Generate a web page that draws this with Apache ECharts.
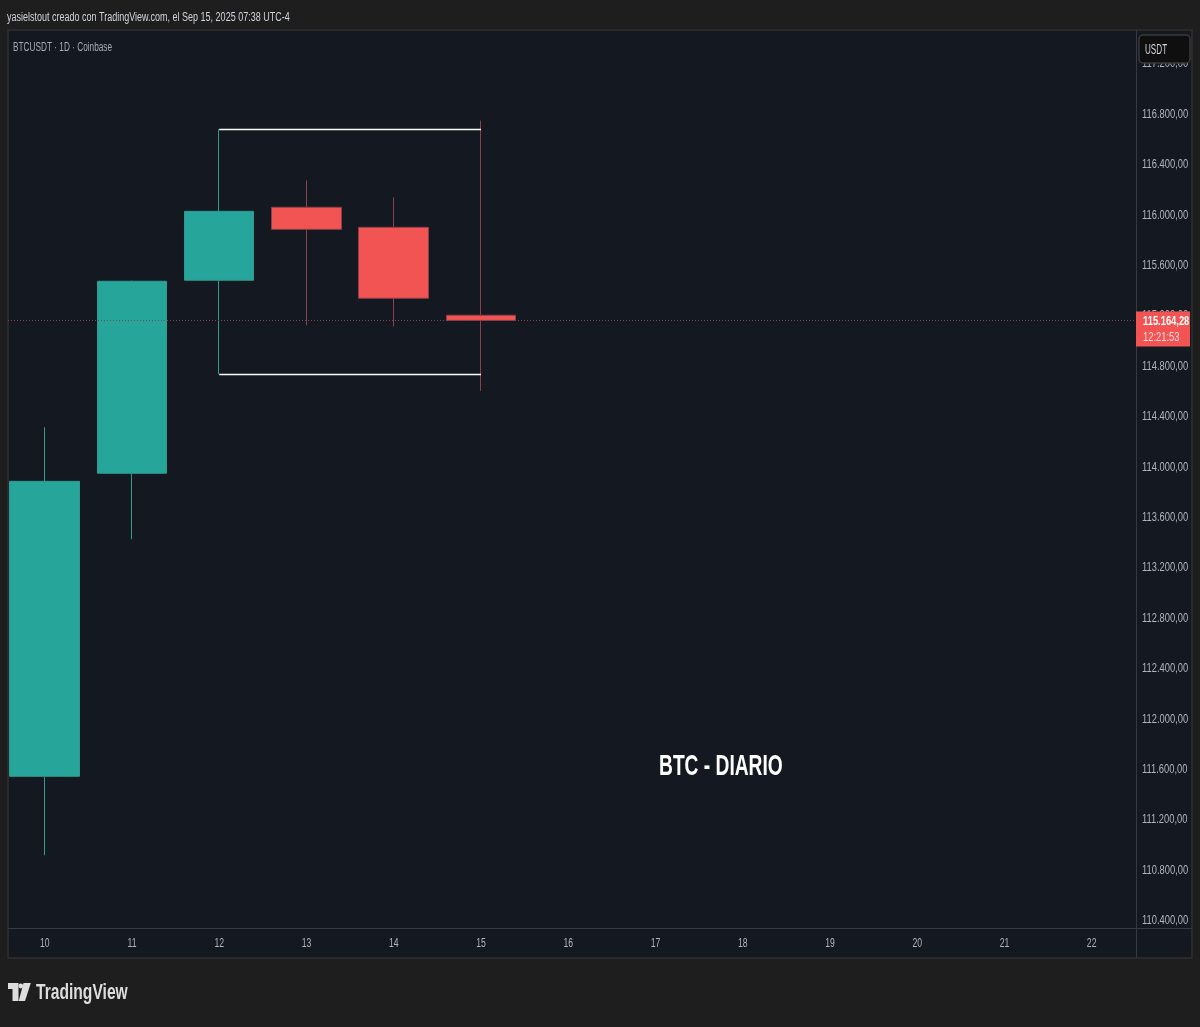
<!DOCTYPE html>
<html><head><meta charset="utf-8">
<style>html,body{margin:0;padding:0;background:#1e1e1e}#c{width:1200px;height:1027px}</style>
<script src="https://cdn.jsdelivr.net/npm/echarts@6/dist/echarts.min.js"></script>
</head><body><div id="c"></div>
<script>
const days = [10, 11, 12, 13, 14, 15];
const opens = [111546, 113951, 115483, 116062, 115903, 115205];
const closes = [113887, 115475, 116030, 115887, 115340, 115164.28];
const lows = [110919, 113427, 114737, 115125, 115117, 114605];
const highs = [114316, 115480, 116681, 116276, 116141, 116750];
const dayTicks = [10, 11, 12, 13, 14, 15, 16, 17, 18, 19, 20, 21, 22];
const priceTicks = [110400, 110800, 111200, 111600, 112000, 112400, 112800, 113200, 113600, 114000, 114400, 114800, 115200, 115600, 116000, 116400, 116800, 117200];
const boxStartDay = 12, boxEndDay = 15, boxTop = 116681, boxBottom = 114737;
const lastPrice = 115164.28;
const countdown = '12:21:53';
const headerText = 'yasielstout creado con TradingView.com, el Sep 15, 2025 07:38 UTC-4';
const symbolText = 'BTCUSDT · 1D · Coinbase';
const noteText = 'BTC - DIARIO';

const FONT = '"Liberation Sans",sans-serif';
const UP = '#26a69a', DOWN = '#f25353', UPW = '#2f9a90', DOWNW = '#8c4149';
const fmt = v => v.toLocaleString('de-DE', {minimumFractionDigits: 2, maximumFractionDigits: 2});
const candles = days.map((d, i) => [d, opens[i], closes[i], lows[i], highs[i]]);
const LOGO = '#dddddd';

const chart = echarts.init(document.getElementById('c'), null, {renderer: 'canvas'});
const chrome = [
  {type: 'rect', z: -10, shape: {x: 8, y: 30, width: 1184, height: 928}, style: {fill: '#141821', stroke: '#2a2a2a', lineWidth: 2}},
  {type: 'line', z: -9, shape: {x1: 8, y1: 928.5, x2: 1192, y2: 928.5}, style: {stroke: '#363a45', lineWidth: 1}},
  {type: 'line', z: -9, shape: {x1: 1136.5, y1: 30, x2: 1136.5, y2: 958}, style: {stroke: '#363a45', lineWidth: 1}},
  {type: 'text', x: 7, y: 18, z: 50, scaleX: 0.72, style: {text: headerText, fill: '#d1d4dc', font: '12.5px ' + FONT, textVerticalAlign: 'middle'}},
  {type: 'text', x: 13, y: 48, z: 50, scaleX: 0.66, style: {text: symbolText, fill: '#a8abb4', font: '12.5px ' + FONT, textVerticalAlign: 'middle'}},
  {type: 'rect', z: 60, shape: {x: 1139, y: 35, width: 51, height: 28, r: 4}, style: {fill: '#0f0f0f', stroke: '#3a3a3a', lineWidth: 1.5}},
  {type: 'text', x: 1145, y: 50, z: 61, scaleX: 0.58, style: {text: 'USDT', fill: '#d1d4dc', font: '14px ' + FONT, textVerticalAlign: 'middle'}},
  {type: 'polygon', z: 50, shape: {points: [[8, 983], [18.5, 983], [18.5, 1001], [12.5, 1001], [12.5, 989], [8, 989]]}, style: {fill: LOGO}},
  {type: 'polygon', z: 50, shape: {points: [[23.5, 983], [30.8, 983], [25, 1001], [18.7, 1001]]}, style: {fill: LOGO}},
  {type: 'circle', z: 50, shape: {cx: 20.8, cy: 986, r: 2.4}, style: {fill: LOGO}},
  {type: 'text', x: 36, y: 993, z: 50, scaleX: 0.71, style: {text: 'TradingView', fill: LOGO, font: 'bold 22px ' + FONT, textVerticalAlign: 'middle'}}
];

chart.setOption({
  animation: false,
  backgroundColor: '#1e1e1e',
  grid: {left: 8, right: 64, top: 30, bottom: 99, show: false, outerBoundsMode: 'none'},
  xAxis: {
    type: 'value', min: 9.579, max: 22.508, containShape: false, splitLine: {show: false},
    axisLine: {show: false}, axisTick: {show: false},
    axisLabel: {customValues: dayTicks, color: '#b2b5be', fontSize: 12, fontFamily: FONT, margin: 10, formatter: v => String(v), hideOverlap: false, showMinLabel: true, showMaxLabel: true}
  },
  yAxis: {
    type: 'value', position: 'right', min: 110342, max: 117469, scale: true, splitLine: {show: false},
    axisLine: {show: false}, axisTick: {show: false},
    axisLabel: {customValues: priceTicks, color: '#b2b5be', fontSize: 13, fontFamily: FONT, margin: 6, formatter: v => fmt(v), hideOverlap: false}
  },
  series: [{
    type: 'line', data: [], z: 1, silent: true,
    markLine: {
      silent: true, symbol: 'none', label: {show: false}, animation: false,
      data: [
        [{coord: [boxStartDay, boxTop], lineStyle: {color: '#ffffff', width: 1.3, type: 'solid'}}, {coord: [boxEndDay, boxTop]}],
        [{coord: [boxStartDay, boxBottom], lineStyle: {color: '#ffffff', width: 1.3, type: 'solid'}}, {coord: [boxEndDay, boxBottom]}],
        [{yAxis: lastPrice, x: 8, lineStyle: {color: '#8a3f4c', width: 1, type: [1, 2]}}, {yAxis: lastPrice, x: 1136}]
      ]
    }
  }, {
    type: 'candlestick', encode: {x: 0, y: [1, 2, 3, 4]}, data: candles, barWidth: 70, clip: false, z: 3,
    itemStyle: {color: UP, color0: DOWN, borderColor: UPW, borderColor0: DOWNW, borderWidth: 1}
  }],
  graphic: chrome
});

const py = chart.convertToPixel({yAxisIndex: 0}, lastPrice);
const notePos = chart.convertToPixel({xAxisIndex: 0, yAxisIndex: 0}, [17.75, 111620]);
chart.setOption({graphic: chrome.concat([
  {type: 'rect', z: 70, shape: {x: 1136, y: py - 9, width: 54, height: 35}, style: {fill: '#f25353'}},
  {type: 'text', x: 1143, y: py + 1, z: 71, scaleX: 0.72, style: {text: fmt(lastPrice), fill: '#ffffff', font: 'bold 13px ' + FONT, textVerticalAlign: 'middle'}},
  {type: 'text', x: 1143, y: py + 17, z: 71, scaleX: 0.72, style: {text: countdown, fill: '#f8dcdc', font: '13px ' + FONT, textVerticalAlign: 'middle'}},
  {type: 'text', x: notePos[0], y: notePos[1], z: 50, scaleX: 0.64, style: {text: noteText, fill: '#ffffff', font: 'bold 30px ' + FONT, textAlign: 'center', textVerticalAlign: 'middle'}}
])});

// The reference's tick labels use a condensed face that is not installed: narrow the library's own axis labels.
const axisTexts = new Set(dayTicks.map(String).concat(priceTicks.map(fmt)));
chart.getZr().storage.getRoots().forEach(root => root.traverse(el => {
  if (el.type === 'text' && el.style && axisTexts.has(el.style.text)) {
    el.scaleX = 0.72;
    el.markRedraw();
  }
}));
chart.getZr().refreshImmediately();
</script></body></html>
